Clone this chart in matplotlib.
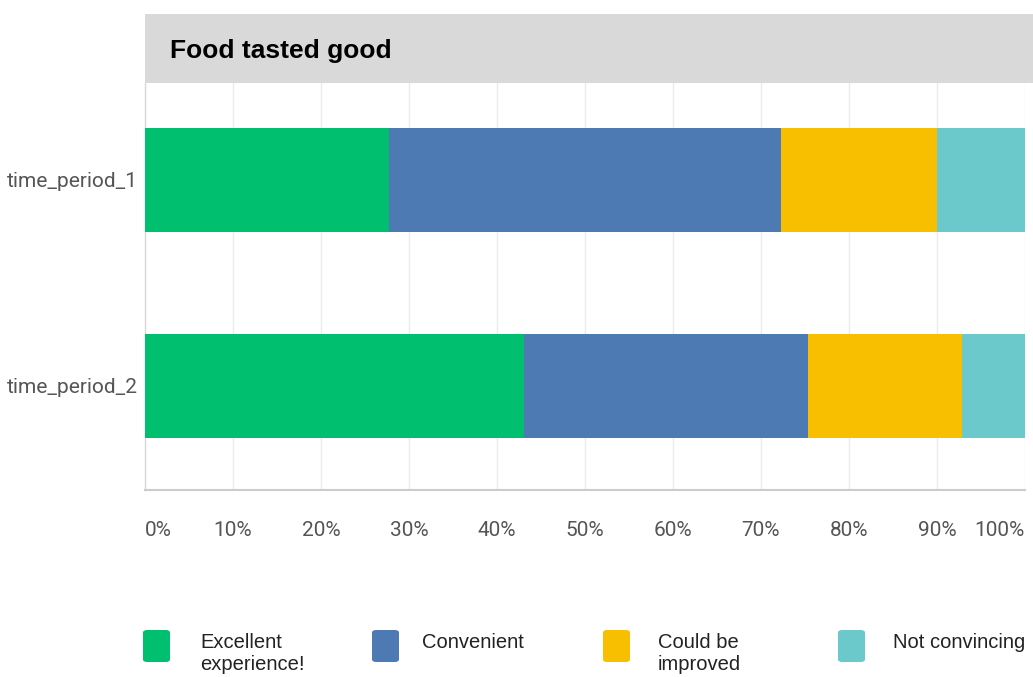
import matplotlib
matplotlib.use("Agg")
import matplotlib.pyplot as plt
from matplotlib.patches import Rectangle, FancyBboxPatch
from matplotlib.transforms import ScaledTranslation

# Survey results (share of responses, %)
periods = ["time_period_1", "time_period_2"]
categories = ["Excellent\nexperience!", "Convenient", "Could be\nimproved", "Not convincing"]
excellent = [27.7, 43.1]
convenient = [44.6, 32.2]
improved = [17.7, 17.5]
not_convincing = [10.0, 7.2]
colors = ["#00BF6F", "#4E7AB4", "#F8BE00", "#6BC8CB"]
x_ticks = [0, 10, 20, 30, 40, 50, 60, 70, 80, 90, 100]
x_tick_labels = [f"{t}%" for t in x_ticks]
title = "Food tasted good"

W, H = 1033, 677
fig = plt.figure(figsize=(W / 100, H / 100), dpi=100)
fig.patch.set_facecolor("white")

def fx(px):
    return px / W

def fy(py):
    return 1 - py / H

ax = fig.add_axes([fx(145), fy(490), fx(1025) - fx(145), fy(83) - fy(490)])

series = [excellent, convenient, improved, not_convincing]
left = [0.0] * len(periods)
ypos = list(range(len(periods)))
for vals, col in zip(series, colors):
    ax.barh(ypos, vals, left=left, height=0.505, color=col, edgecolor="none", zorder=3)
    left = [l + v for l, v in zip(left, vals)]

ax.set_xlim(0, 100)
ax.set_ylim(1.505, -0.47)
ax.set_yticks(ypos)
ax.set_yticklabels(periods)
ax.set_xticks(x_ticks)
ax.set_xticklabels(x_tick_labels)

tick_font = dict(family="Roboto", size=15, color="#555555")
for lab in ax.get_yticklabels():
    lab.set(**tick_font)
    lab.set_transform(lab.get_transform() + ScaledTranslation(0, -3 / 100, fig.dpi_scale_trans))
for lab in ax.get_xticklabels():
    lab.set(**tick_font)
xl = ax.get_xticklabels()
xl[0].set_ha("left")
xl[-1].set_ha("right")

ax.tick_params(axis="both", length=0)
ax.tick_params(axis="x", pad=22)
ax.tick_params(axis="y", pad=5)
ax.grid(axis="x", color="#ebebeb", linewidth=1.0, zorder=0)
ax.grid(axis="y", visible=False)
for s in ["top", "right"]:
    ax.spines[s].set_visible(False)
ax.spines["left"].set_color("#d8d8d8")
ax.spines["left"].set_linewidth(1.0)
ax.spines["bottom"].set_color("#cccccc")
ax.spines["bottom"].set_linewidth(1.5)

# Title band
fig.patches.append(Rectangle((fx(145), fy(83)), fx(1033) - fx(145), fy(14) - fy(83),
                             transform=fig.transFigure, facecolor="#d9d9d9",
                             edgecolor="none", zorder=0))
fig.text(fx(170), fy(51), title, family="Liberation Sans", weight="bold",
         size=19, color="black", va="center", ha="left")

# Legend
box_x = [143, 372, 603, 838]
text_x = [200, 422, 658, 893]
for bx, tx, col, cat in zip(box_x, text_x, colors, categories):
    fig.patches.append(FancyBboxPatch((fx(bx), fy(662)), fx(27), fy(630) - fy(662),
                                      boxstyle="round,pad=0,rounding_size=0.004",
                                      transform=fig.transFigure, facecolor=col,
                                      edgecolor="none"))
    fig.text(fx(tx), fy(633), cat, family="Liberation Sans", size=14.5,
             color="#222222", va="top", ha="left", linespacing=1.22)

fig.savefig("out.png", dpi=100)
